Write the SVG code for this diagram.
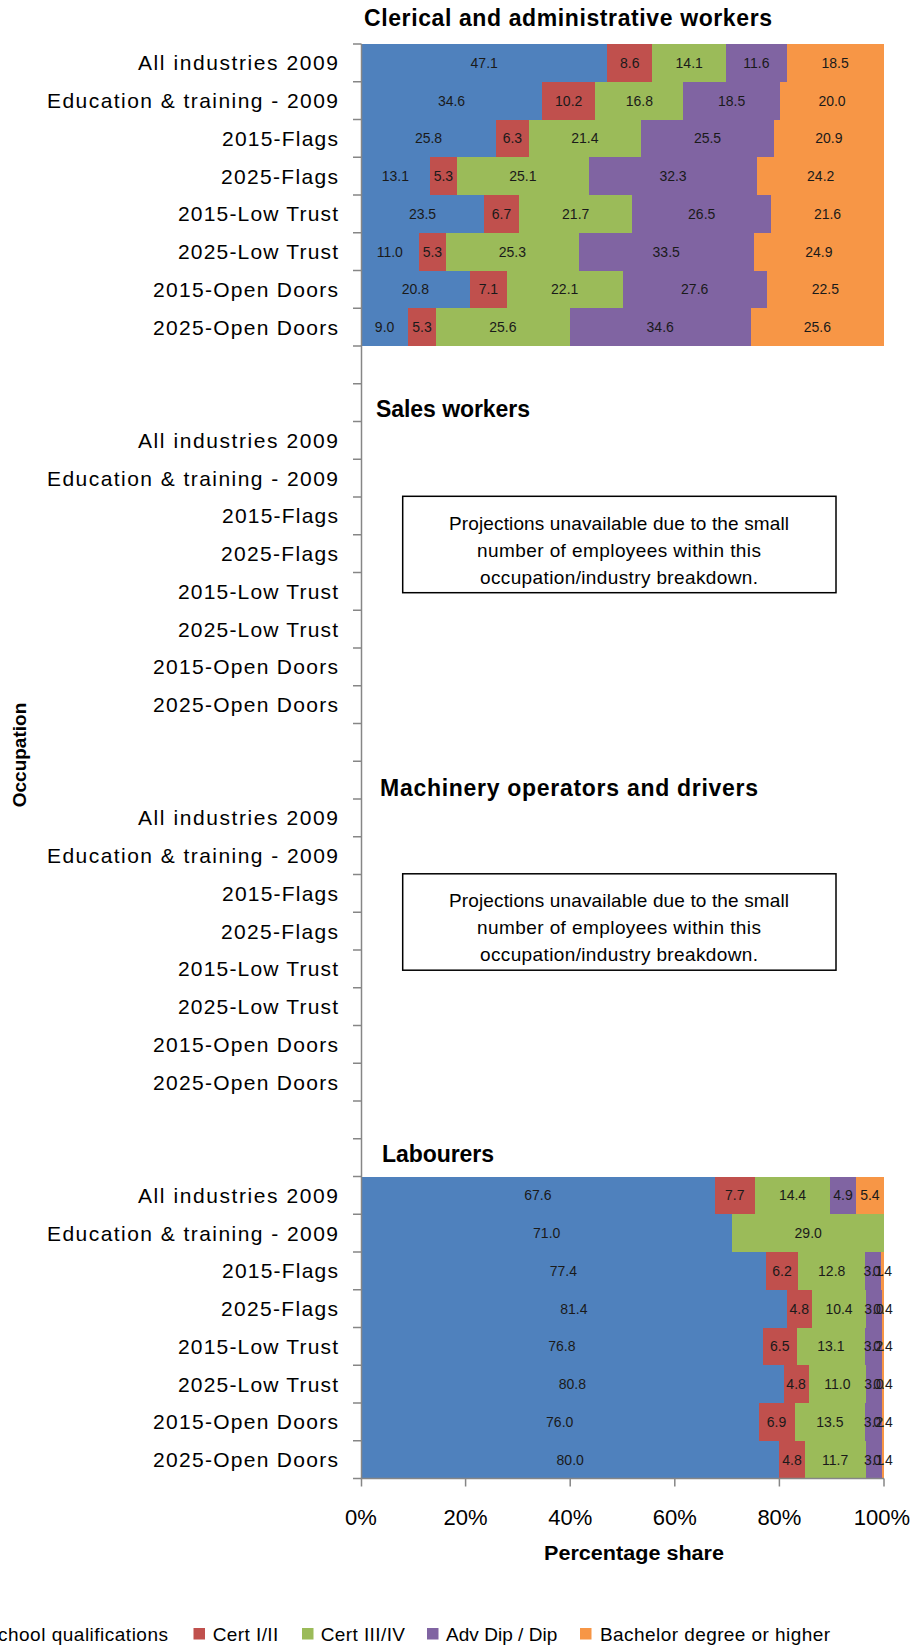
<svg xmlns="http://www.w3.org/2000/svg" width="919" height="1646" viewBox="0 0 919 1646">
<style>
.b{fill:#4F81BD}.r{fill:#C0504D}.g{fill:#9BBB59}.p{fill:#8064A2}.o{fill:#F79646}
.bars rect{shape-rendering:crispEdges}
.cat{font-family:"Liberation Sans",Arial,sans-serif;font-size:21px;fill:#000;text-anchor:end}
.ttl{font-family:"Liberation Sans",Arial,sans-serif;font-size:23px;font-weight:bold;fill:#000}
.dl{font-family:"Liberation Sans",Arial,sans-serif;font-size:14px;fill:#1a1a1a;text-anchor:middle}
.ax{stroke:#868686;stroke-width:1.5;fill:none}
.tk{font-family:"Liberation Sans",Arial,sans-serif;font-size:22px;fill:#000;text-anchor:middle}
.note{font-family:"Liberation Sans",Arial,sans-serif;font-size:19px;fill:#000;text-anchor:middle}
.box{fill:#fff;stroke:#000;stroke-width:1.5}
.lg{font-family:"Liberation Sans",Arial,sans-serif;font-size:19px;fill:#000}
</style>
<rect width="919" height="1646" fill="#fff"/>

<g id="bars-clerical" class="bars">
<rect class="b" x="361" y="44" width="246.3" height="38"/><rect class="r" x="607.3" y="44" width="45" height="38"/><rect class="g" x="652.3" y="44" width="73.8" height="38"/><rect class="p" x="726.1" y="44" width="60.6" height="38"/><rect class="o" x="786.7" y="44" width="96.8" height="38"/>
<rect class="b" x="361" y="81.75" width="181" height="38"/><rect class="r" x="542" y="81.75" width="53.3" height="38"/><rect class="g" x="595.3" y="81.75" width="87.9" height="38"/><rect class="p" x="683.2" y="81.75" width="96.7" height="38"/><rect class="o" x="779.9" y="81.75" width="104.1" height="38"/>
<rect class="b" x="361" y="119.5" width="134.9" height="38"/><rect class="r" x="495.9" y="119.5" width="33" height="38"/><rect class="g" x="528.9" y="119.5" width="111.9" height="38"/><rect class="p" x="640.8" y="119.5" width="133.4" height="38"/><rect class="o" x="774.2" y="119.5" width="109.3" height="38"/>
<rect class="b" x="361" y="157.25" width="68.5" height="38"/><rect class="r" x="429.5" y="157.25" width="27.7" height="38"/><rect class="g" x="457.2" y="157.25" width="131.3" height="38"/><rect class="p" x="588.5" y="157.25" width="168.9" height="38"/><rect class="o" x="757.4" y="157.25" width="126.6" height="38"/>
<rect class="b" x="361" y="195" width="122.9" height="38"/><rect class="r" x="483.9" y="195" width="35.1" height="38"/><rect class="g" x="519" y="195" width="113.4" height="38"/><rect class="p" x="632.4" y="195" width="138.6" height="38"/><rect class="o" x="771" y="195" width="113" height="38"/>
<rect class="b" x="361" y="232.75" width="57.5" height="38"/><rect class="r" x="418.5" y="232.75" width="27.7" height="38"/><rect class="g" x="446.2" y="232.75" width="132.4" height="38"/><rect class="p" x="578.6" y="232.75" width="175.2" height="38"/><rect class="o" x="753.8" y="232.75" width="130.2" height="38"/>
<rect class="b" x="361" y="270.5" width="108.8" height="38"/><rect class="r" x="469.8" y="270.5" width="37.1" height="38"/><rect class="g" x="506.9" y="270.5" width="115.6" height="38"/><rect class="p" x="622.5" y="270.5" width="144.3" height="38"/><rect class="o" x="766.8" y="270.5" width="117.2" height="38"/>
<rect class="b" x="361" y="308.25" width="47.1" height="37.75"/><rect class="r" x="408.1" y="308.25" width="27.7" height="37.75"/><rect class="g" x="435.8" y="308.25" width="133.9" height="37.75"/><rect class="p" x="569.7" y="308.25" width="180.9" height="37.75"/><rect class="o" x="750.6" y="308.25" width="133.4" height="37.75"/>
</g>

<g id="labels-clerical">
<text class="dl" x="484.2" y="67.9">47.1</text><text class="dl" x="629.8" y="67.9">8.6</text><text class="dl" x="689.2" y="67.9">14.1</text><text class="dl" x="756.4" y="67.9">11.6</text><text class="dl" x="835.1" y="67.9">18.5</text>
<text class="dl" x="451.5" y="105.6">34.6</text><text class="dl" x="568.7" y="105.6">10.2</text><text class="dl" x="639.3" y="105.6">16.8</text><text class="dl" x="731.6" y="105.6">18.5</text><text class="dl" x="832" y="105.6">20.0</text>
<text class="dl" x="428.5" y="143.4">25.8</text><text class="dl" x="512.4" y="143.4">6.3</text><text class="dl" x="584.9" y="143.4">21.4</text><text class="dl" x="707.5" y="143.4">25.5</text><text class="dl" x="828.9" y="143.4">20.9</text>
<text class="dl" x="395.3" y="181.1">13.1</text><text class="dl" x="443.4" y="181.1">5.3</text><text class="dl" x="522.9" y="181.1">25.1</text><text class="dl" x="673" y="181.1">32.3</text><text class="dl" x="820.7" y="181.1">24.2</text>
<text class="dl" x="422.5" y="218.9">23.5</text><text class="dl" x="501.5" y="218.9">6.7</text><text class="dl" x="575.7" y="218.9">21.7</text><text class="dl" x="701.7" y="218.9">26.5</text><text class="dl" x="827.5" y="218.9">21.6</text>
<text class="dl" x="389.8" y="256.6">11.0</text><text class="dl" x="432.4" y="256.6">5.3</text><text class="dl" x="512.4" y="256.6">25.3</text><text class="dl" x="666.2" y="256.6">33.5</text><text class="dl" x="818.9" y="256.6">24.9</text>
<text class="dl" x="415.4" y="294.4">20.8</text><text class="dl" x="488.4" y="294.4">7.1</text><text class="dl" x="564.7" y="294.4">22.1</text><text class="dl" x="694.7" y="294.4">27.6</text><text class="dl" x="825.4" y="294.4">22.5</text>
<text class="dl" x="384.6" y="332.1">9.0</text><text class="dl" x="422" y="332.1">5.3</text><text class="dl" x="502.8" y="332.1">25.6</text><text class="dl" x="660.2" y="332.1">34.6</text><text class="dl" x="817.3" y="332.1">25.6</text>
</g>

<g id="bars-labourers" class="bars">
<rect class="b" x="361" y="1176.5" width="353.5" height="38"/><rect class="r" x="714.5" y="1176.5" width="40.3" height="38"/><rect class="g" x="754.8" y="1176.5" width="75.3" height="38"/><rect class="p" x="830.1" y="1176.5" width="25.7" height="38"/><rect class="o" x="855.8" y="1176.5" width="28.2" height="38"/>
<rect class="b" x="361" y="1214.25" width="371.3" height="38"/><rect class="g" x="732.3" y="1214.25" width="151.7" height="38"/>
<rect class="b" x="361" y="1252" width="404.8" height="38"/><rect class="r" x="765.8" y="1252" width="32.4" height="38"/><rect class="g" x="798.2" y="1252" width="67" height="38"/><rect class="p" x="865.2" y="1252" width="16.2" height="38"/><rect class="o" x="881.4" y="1252" width="2.1" height="38"/>
<rect class="b" x="361" y="1289.75" width="425.7" height="38"/><rect class="r" x="786.7" y="1289.75" width="25.1" height="38"/><rect class="g" x="811.8" y="1289.75" width="54.4" height="38"/><rect class="p" x="866.2" y="1289.75" width="15.7" height="38"/><rect class="o" x="881.9" y="1289.75" width="2.1" height="38"/>
<rect class="b" x="361" y="1327.5" width="401.7" height="38"/><rect class="r" x="762.7" y="1327.5" width="34" height="38"/><rect class="g" x="796.7" y="1327.5" width="68.5" height="38"/><rect class="p" x="865.2" y="1327.5" width="16.7" height="38"/><rect class="o" x="881.9" y="1327.5" width="2.1" height="38"/>
<rect class="b" x="361" y="1365.25" width="422.6" height="38"/><rect class="r" x="783.6" y="1365.25" width="25.1" height="38"/><rect class="g" x="808.7" y="1365.25" width="57.5" height="38"/><rect class="p" x="866.2" y="1365.25" width="15.7" height="38"/><rect class="o" x="881.9" y="1365.25" width="2.1" height="38"/>
<rect class="b" x="361" y="1403" width="397.5" height="38"/><rect class="r" x="758.5" y="1403" width="36.1" height="38"/><rect class="g" x="794.6" y="1403" width="70.6" height="38"/><rect class="p" x="865.2" y="1403" width="16.7" height="38"/><rect class="o" x="881.9" y="1403" width="2.1" height="38"/>
<rect class="b" x="361" y="1440.75" width="418.4" height="37.75"/><rect class="r" x="779.4" y="1440.75" width="25.1" height="37.75"/><rect class="g" x="804.5" y="1440.75" width="61.2" height="37.75"/><rect class="p" x="865.7" y="1440.75" width="16.2" height="37.75"/><rect class="o" x="881.9" y="1440.75" width="2.1" height="37.75"/>
</g>

<g id="labels-labourers">
<text class="dl" x="537.8" y="1200.4">67.6</text><text class="dl" x="734.7" y="1200.4">7.7</text><text class="dl" x="792.5" y="1200.4">14.4</text><text class="dl" x="843" y="1200.4">4.9</text><text class="dl" x="869.9" y="1200.4">5.4</text>
<text class="dl" x="546.7" y="1238.1">71.0</text><text class="dl" x="808.2" y="1238.1">29.0</text>
<text class="dl" x="563.4" y="1275.9">77.4</text><text class="dl" x="782" y="1275.9">6.2</text><text class="dl" x="831.7" y="1275.9">12.8</text><text class="dl" x="873.3" y="1275.9">3.1</text><text class="dl" x="882.4" y="1275.9">0.4</text>
<text class="dl" x="573.9" y="1313.6">81.4</text><text class="dl" x="799.3" y="1313.6">4.8</text><text class="dl" x="839" y="1313.6">10.4</text><text class="dl" x="874.1" y="1313.6">3.0</text><text class="dl" x="883" y="1313.6">0.4</text>
<text class="dl" x="561.8" y="1351.4">76.8</text><text class="dl" x="779.7" y="1351.4">6.5</text><text class="dl" x="830.9" y="1351.4">13.1</text><text class="dl" x="873.5" y="1351.4">3.2</text><text class="dl" x="883" y="1351.4">0.4</text>
<text class="dl" x="572.3" y="1389.1">80.8</text><text class="dl" x="796.1" y="1389.1">4.8</text><text class="dl" x="837.4" y="1389.1">11.0</text><text class="dl" x="874.1" y="1389.1">3.0</text><text class="dl" x="883" y="1389.1">0.4</text>
<text class="dl" x="559.7" y="1426.9">76.0</text><text class="dl" x="776.5" y="1426.9">6.9</text><text class="dl" x="829.9" y="1426.9">13.5</text><text class="dl" x="873.5" y="1426.9">3.2</text><text class="dl" x="883" y="1426.9">0.4</text>
<text class="dl" x="570.2" y="1464.6">80.0</text><text class="dl" x="792" y="1464.6">4.8</text><text class="dl" x="835.1" y="1464.6">11.7</text><text class="dl" x="873.8" y="1464.6">3.1</text><text class="dl" x="883" y="1464.6">0.4</text>
</g>

<g id="axes">
<path class="ax" d="M361.5 44V1478.5H884"/>
<path class="ax" d="M353 44H361.5M353 81.75H361.5M353 119.5H361.5M353 157.25H361.5M353 195H361.5M353 232.75H361.5M353 270.5H361.5M353 308.25H361.5M353 346H361.5M353 383.75H361.5M353 421.5H361.5M353 459.25H361.5M353 497H361.5M353 534.75H361.5M353 572.5H361.5M353 610.25H361.5M353 648H361.5M353 685.75H361.5M353 723.5H361.5M353 761.25H361.5M353 799H361.5M353 836.75H361.5M353 874.5H361.5M353 912.25H361.5M353 950H361.5M353 987.75H361.5M353 1025.5H361.5M353 1063.25H361.5M353 1101H361.5M353 1138.75H361.5M353 1176.5H361.5M353 1214.25H361.5M353 1252H361.5M353 1289.75H361.5M353 1327.5H361.5M353 1365.25H361.5M353 1403H361.5M353 1440.75H361.5M353 1478.5H361.5"/>
<path class="ax" d="M361.5 1478.5V1486.5M465.6 1478.5V1486.5M570.2 1478.5V1486.5M674.8 1478.5V1486.5M779.4 1478.5V1486.5M884 1478.5V1486.5"/>
<text class="tk" x="361" y="1525">0%</text>
<text class="tk" x="465.6" y="1525">20%</text>
<text class="tk" x="570.2" y="1525">40%</text>
<text class="tk" x="674.8" y="1525">60%</text>
<text class="tk" x="779.4" y="1525">80%</text>
<text class="tk" x="882" y="1525">100%</text>
<text x="634" y="1560" font-family="Liberation Sans, Arial, sans-serif" font-size="20" font-weight="bold" text-anchor="middle" textLength="180" lengthAdjust="spacingAndGlyphs">Percentage share</text>
<text transform="translate(26 755) rotate(-90)" font-family="Liberation Sans, Arial, sans-serif" font-size="19" font-weight="bold" text-anchor="middle">Occupation</text>
</g>

<g id="titles">
<text class="ttl" x="364" y="26" textLength="408">Clerical and administrative workers</text>
<text class="ttl" x="376" y="417" textLength="154">Sales workers</text>
<text class="ttl" x="380" y="796" textLength="378">Machinery operators and drivers</text>
<text class="ttl" x="382" y="1162" textLength="112">Labourers</text>
</g>

<g id="category-labels">
<text class="cat" x="338" y="70.4" textLength="200">All industries 2009</text>
<text class="cat" x="338" y="108.1" textLength="291">Education &amp; training - 2009</text>
<text class="cat" x="338" y="145.9" textLength="116">2015-Flags</text>
<text class="cat" x="338" y="183.6" textLength="117">2025-Flags</text>
<text class="cat" x="338" y="221.4" textLength="160">2015-Low Trust</text>
<text class="cat" x="338" y="259.1" textLength="160">2025-Low Trust</text>
<text class="cat" x="338" y="296.9" textLength="185">2015-Open Doors</text>
<text class="cat" x="338" y="334.6" textLength="185">2025-Open Doors</text>

<text class="cat" x="338" y="447.9" textLength="200">All industries 2009</text>
<text class="cat" x="338" y="485.6" textLength="291">Education &amp; training - 2009</text>
<text class="cat" x="338" y="523.4" textLength="116">2015-Flags</text>
<text class="cat" x="338" y="561.1" textLength="117">2025-Flags</text>
<text class="cat" x="338" y="598.9" textLength="160">2015-Low Trust</text>
<text class="cat" x="338" y="636.6" textLength="160">2025-Low Trust</text>
<text class="cat" x="338" y="674.4" textLength="185">2015-Open Doors</text>
<text class="cat" x="338" y="712.1" textLength="185">2025-Open Doors</text>

<text class="cat" x="338" y="825.4" textLength="200">All industries 2009</text>
<text class="cat" x="338" y="863.1" textLength="291">Education &amp; training - 2009</text>
<text class="cat" x="338" y="900.9" textLength="116">2015-Flags</text>
<text class="cat" x="338" y="938.6" textLength="117">2025-Flags</text>
<text class="cat" x="338" y="976.4" textLength="160">2015-Low Trust</text>
<text class="cat" x="338" y="1014.1" textLength="160">2025-Low Trust</text>
<text class="cat" x="338" y="1051.9" textLength="185">2015-Open Doors</text>
<text class="cat" x="338" y="1089.6" textLength="185">2025-Open Doors</text>

<text class="cat" x="338" y="1202.9" textLength="200">All industries 2009</text>
<text class="cat" x="338" y="1240.6" textLength="291">Education &amp; training - 2009</text>
<text class="cat" x="338" y="1278.4" textLength="116">2015-Flags</text>
<text class="cat" x="338" y="1316.1" textLength="117">2025-Flags</text>
<text class="cat" x="338" y="1353.9" textLength="160">2015-Low Trust</text>
<text class="cat" x="338" y="1391.6" textLength="160">2025-Low Trust</text>
<text class="cat" x="338" y="1429.4" textLength="185">2015-Open Doors</text>
<text class="cat" x="338" y="1467.1" textLength="185">2025-Open Doors</text>
</g>

<g id="note-sales">
<rect class="box" x="402.7" y="496.3" width="433.3" height="96.4"/>
<text class="note" x="619" y="529.5" textLength="340">Projections unavailable due to the small</text>
<text class="note" x="619" y="556.5" textLength="284">number of employees within this</text>
<text class="note" x="619" y="583.5" textLength="278">occupation/industry breakdown.</text>
</g>

<g id="note-machinery">
<rect class="box" x="402.7" y="873.8" width="433.3" height="96.4"/>
<text class="note" x="619" y="907" textLength="340">Projections unavailable due to the small</text>
<text class="note" x="619" y="934" textLength="284">number of employees within this</text>
<text class="note" x="619" y="961" textLength="278">occupation/industry breakdown.</text>
</g>

<g id="legend">
<text class="lg" x="168" y="1641" text-anchor="end" textLength="170">chool qualifications</text>
<rect class="r" x="193.5" y="1628" width="11.5" height="11.5"/>
<text class="lg" x="212.7" y="1641" textLength="65.6">Cert I/II</text>
<rect class="g" x="302" y="1628" width="11.5" height="11.5"/>
<text class="lg" x="320.7" y="1641" textLength="84.3">Cert III/IV</text>
<rect class="p" x="427" y="1628" width="11.5" height="11.5"/>
<text class="lg" x="446" y="1641" textLength="111.3">Adv Dip / Dip</text>
<rect class="o" x="580" y="1628" width="11.5" height="11.5"/>
<text class="lg" x="600" y="1641" textLength="230">Bachelor degree or higher</text>
</g>
</svg>
